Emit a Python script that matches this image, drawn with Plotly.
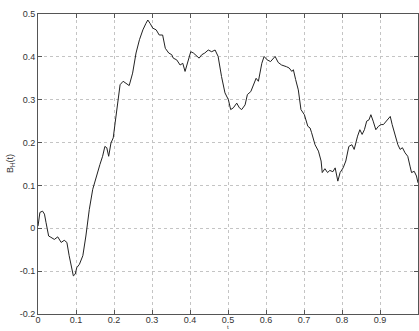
import plotly.graph_objects as go

t = [0.000, 0.005, 0.012, 0.017, 0.021, 0.028, 0.034, 0.043, 0.052, 0.061,
     0.069, 0.076, 0.082, 0.087, 0.093, 0.098, 0.102, 0.109, 0.118, 0.126,
     0.135, 0.144, 0.151, 0.157, 0.163, 0.170, 0.176, 0.181, 0.186, 0.192,
     0.198, 0.203, 0.210, 0.216, 0.224, 0.232, 0.240, 0.249, 0.258, 0.267,
     0.276, 0.284, 0.289, 0.295, 0.302, 0.311, 0.319, 0.328, 0.335, 0.344,
     0.352, 0.356, 0.365, 0.374, 0.381, 0.387, 0.396, 0.402, 0.409, 0.418,
     0.424, 0.431, 0.439, 0.448, 0.457, 0.466, 0.474, 0.483, 0.492, 0.501,
     0.507, 0.514, 0.523, 0.530, 0.536, 0.545, 0.551, 0.560, 0.567, 0.574,
     0.580, 0.589, 0.595, 0.603, 0.612, 0.624, 0.632, 0.641, 0.654, 0.661,
     0.668, 0.672, 0.678, 0.685, 0.692, 0.701, 0.710, 0.716, 0.720, 0.729,
     0.738, 0.745, 0.748, 0.755, 0.762, 0.768, 0.776, 0.782, 0.789, 0.795,
     0.803, 0.810, 0.818, 0.826, 0.832, 0.836, 0.841, 0.847, 0.853, 0.859,
     0.865, 0.871, 0.876, 0.882, 0.889, 0.896, 0.903, 0.909, 0.913, 0.918,
     0.922, 0.927, 0.932, 0.939, 0.947, 0.953, 0.959, 0.966, 0.973, 0.979,
     0.983, 0.990, 0.996, 1.000]

b_h = [0.005, 0.037, 0.040, 0.033, 0.014, -0.018, -0.021, -0.026, -0.020, -0.033,
       -0.028, -0.033, -0.064, -0.088, -0.111, -0.107, -0.092, -0.084, -0.064, -0.018,
       0.044, 0.091, 0.114, 0.130, 0.149, 0.168, 0.191, 0.188, 0.168, 0.199,
       0.211, 0.246, 0.292, 0.335, 0.343, 0.339, 0.333, 0.362, 0.409, 0.440,
       0.463, 0.478, 0.486, 0.478, 0.467, 0.463, 0.451, 0.451, 0.420, 0.409,
       0.405, 0.397, 0.393, 0.381, 0.385, 0.366, 0.393, 0.412, 0.409, 0.401,
       0.397, 0.405, 0.409, 0.416, 0.412, 0.416, 0.401, 0.354, 0.316, 0.300,
       0.277, 0.281, 0.292, 0.281, 0.277, 0.288, 0.312, 0.319, 0.335, 0.350,
       0.343, 0.385, 0.401, 0.393, 0.389, 0.401, 0.387, 0.381, 0.377, 0.374,
       0.366, 0.370, 0.347, 0.323, 0.277, 0.265, 0.238, 0.234, 0.223, 0.195,
       0.180, 0.157, 0.130, 0.139, 0.130, 0.135, 0.132, 0.141, 0.110, 0.130,
       0.141, 0.157, 0.191, 0.195, 0.184, 0.199, 0.215, 0.230, 0.219, 0.230,
       0.250, 0.253, 0.265, 0.250, 0.230, 0.238, 0.242, 0.242, 0.246, 0.253,
       0.257, 0.261, 0.242, 0.219, 0.195, 0.184, 0.188, 0.176, 0.168, 0.145,
       0.130, 0.133, 0.122, 0.106]

x_ticks = [0, 0.1, 0.2, 0.3, 0.4, 0.5, 0.6, 0.7, 0.8, 0.9, 1]
x_tick_labels = ["0", "0.1", "0.2", "0.3", "0.4", "0.5", "0.6", "0.7", "0.8", "0.9", "1"]
y_ticks = [-0.2, -0.1, 0, 0.1, 0.2, 0.3, 0.4, 0.5]
y_tick_labels = ["-0.2", "-0.1", "0", "0.1", "0.2", "0.3", "0.4", "0.5"]

font = dict(family="Liberation Sans, Arial", size=9, color="#333333")

fig = go.Figure()
fig.add_trace(go.Scatter(x=t, y=b_h, mode="lines",
                         line=dict(color="#222222", width=1), showlegend=False))

axis_common = dict(
    showline=True, linecolor="#555555", linewidth=1, mirror="ticks",
    ticks="inside", ticklen=4, tickcolor="#555555",
    showgrid=True, gridcolor="#c4c4c4", griddash="dot", gridwidth=1,
    zeroline=False, tickfont=font, automargin=False,
)

fig.update_layout(
    width=419, height=331,
    margin=dict(l=38, r=1, t=14, b=17),
    paper_bgcolor="white", plot_bgcolor="white",
    xaxis=dict(range=[0, 1], tickvals=x_ticks, ticktext=x_tick_labels,
               ticklabelstandoff=-3, **axis_common),
    yaxis=dict(range=[-0.2, 0.5], tickvals=y_ticks, ticktext=y_tick_labels, **axis_common),
    annotations=[
        dict(text="B<sub>H</sub>(t)", x=0, xref="paper", xshift=-28, y=0.5, yref="paper",
             xanchor="center", yanchor="middle",
             showarrow=False, textangle=-90, font=font),
        dict(text="t", x=0.5, xref="paper", y=0, yref="paper", yshift=-17,
             xanchor="center", yanchor="bottom", borderpad=0,
             showarrow=False, font=dict(family="Liberation Sans, Arial", size=6, color="#333333")),
    ],
)

fig.write_html("out.html", config={"displayModeBar": False},
               post_script="document.body.style.margin='0';document.body.style.overflow='hidden';")
